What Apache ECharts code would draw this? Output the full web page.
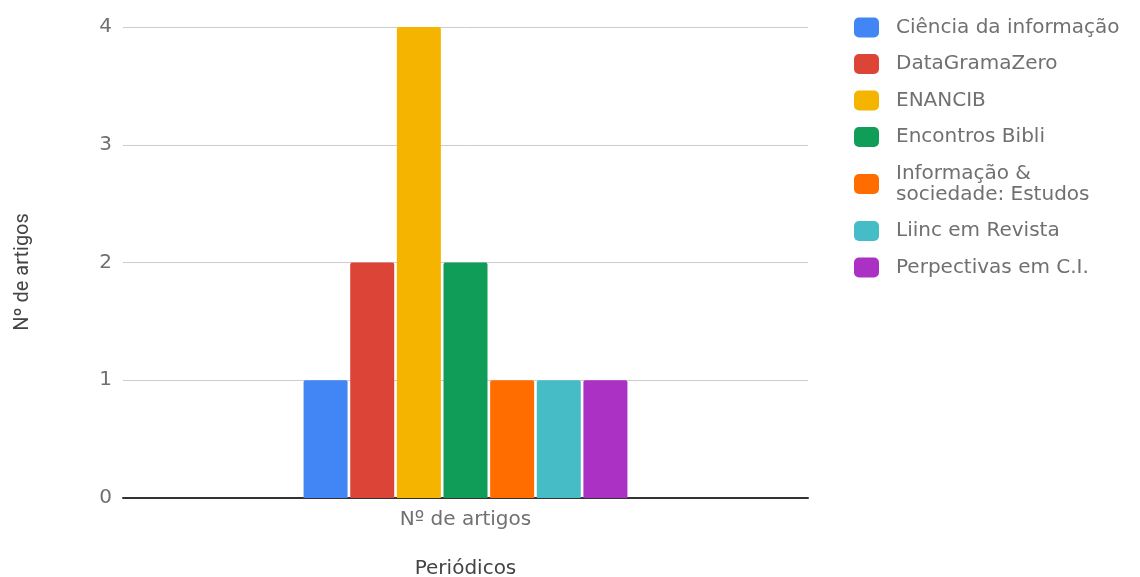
<!DOCTYPE html>
<html>
<head>
<meta charset="utf-8">
<script src="https://cdn.jsdelivr.net/npm/echarts@6/dist/echarts.min.js"></script>
<style>
  html, body { margin: 0; padding: 0; background: #fff; }
  #chart { width: 1140px; height: 577px; }
</style>
</head>
<body>
<div id="chart"></div>
<script>
// dados
var categorias = ['Nº de artigos'];
var periodicos = ['Ciência da informação', 'DataGramaZero', 'ENANCIB', 'Encontros Bibli',
  'Informação &\nsociedade: Estudos', 'Liinc em Revista', 'Perpectivas em C.I.'];
var artigos = [1, 2, 4, 2, 1, 1, 1];
var cores = ['#4285f4', '#db4437', '#f4b400', '#0f9d58', '#ff6d00', '#46bdc6', '#ab30c4'];
var yTicks = [0, 1, 2, 3, 4];

// texto horizontal um pouco mais largo, como no original
var fonte = '"DejaVu Sans", Roboto, sans-serif';
var cinza = '#707070';

var option = {
  animation: false,
  textStyle: { fontFamily: fonte },
  grid: { left: 123, right: 332, top: 27, height: 471, outerBoundsMode: 'none' },
  legend: {
    orient: 'vertical',
    left: 849,
    top: 12,
    itemWidth: 25,
    itemHeight: 20,
    itemGap: 15.5,
    icon: 'roundRect',
    textStyle: { fontSize: 20, color: cinza, lineHeight: 21, padding: [0, 0, 0, 12], fontFamily: fonte },
    data: periodicos
  },
  xAxis: {
    type: 'category',
    data: categorias,
    name: 'Periódicos',
    nameLocation: 'middle',
    nameGap: 61,
    nameTextStyle: { fontSize: 20, color: '#444' },
    axisLine: { lineStyle: { color: '#333', width: 2 } },
    axisTick: { show: false },
    axisLabel: { fontSize: 20, color: cinza, margin: 12 }
  },
  yAxis: {
    type: 'value',
    min: yTicks[0],
    max: yTicks[yTicks.length - 1],
    interval: 1,
    name: 'Nº de artigos',
    nameLocation: 'middle',
    nameGap: 90,
    nameTextStyle: { fontSize: 20, color: '#444', fontFamily: 'Roboto, sans-serif', padding: [0, 19, 0, 0] },
    axisLine: { show: false },
    axisTick: { show: false },
    axisLabel: { fontSize: 20, color: cinza, margin: 11 },
    splitLine: { lineStyle: { color: '#cccccc', width: 1 } }
  },
  series: function () {
    var serie = [];
    for (var i = 0; i < periodicos.length; i++) {
      serie.push({
        name: periodicos[i],
        type: 'bar',
        barWidth: 44,
        barGap: '6%',
        itemStyle: { color: cores[i], borderRadius: [2, 2, 0, 0] },
        data: [artigos[i]]
      });
    }
    return serie;
  }()
};

var myChart = echarts.init(document.getElementById('chart'));
myChart.setOption(option);
</script>
</body>
</html>
